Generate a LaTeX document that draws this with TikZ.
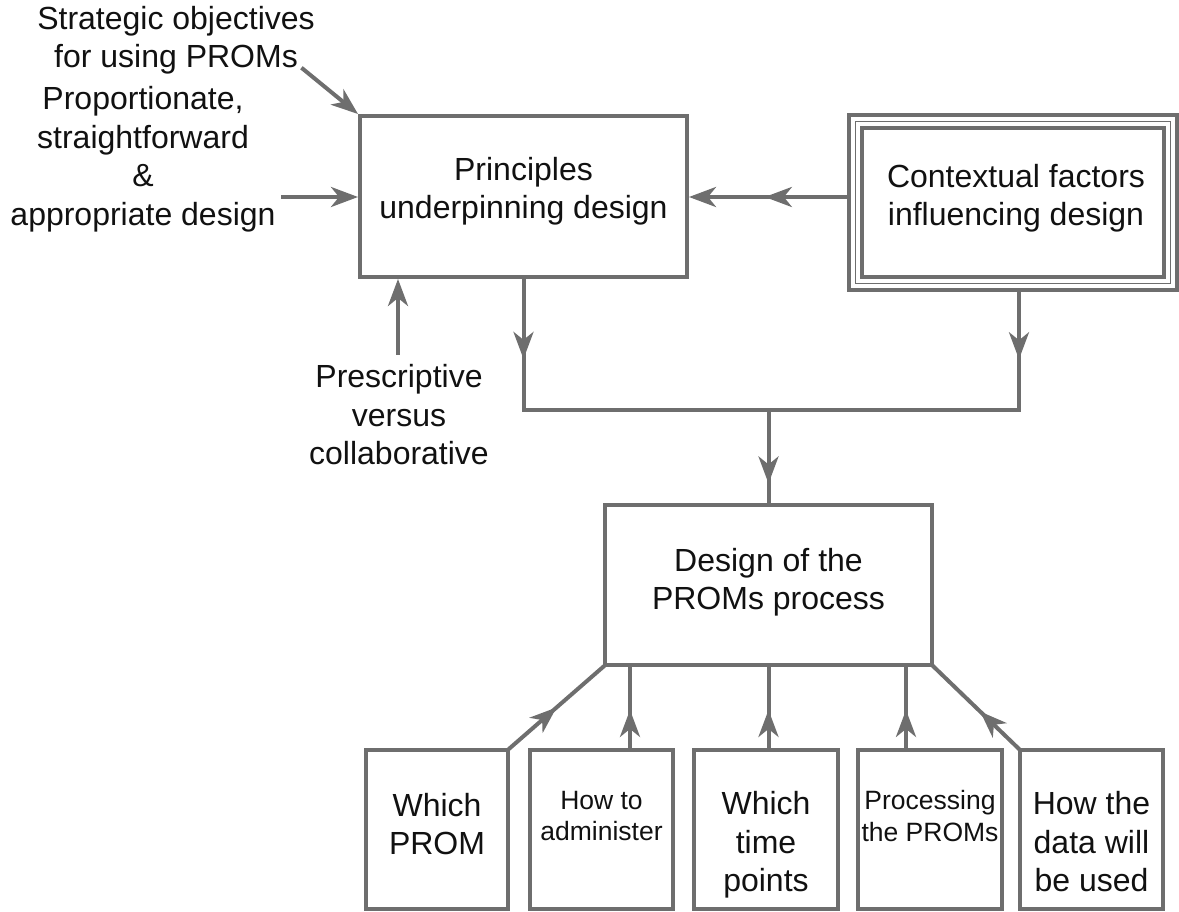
\documentclass[tikz,border=0pt]{standalone}
\usepackage{fontspec}
\setmainfont{Liberation Sans}
\usetikzlibrary{arrows.meta,decorations.markings,calc}
\definecolor{lgray}{HTML}{6E6E6E}
\definecolor{txt}{HTML}{111111}
\tikzset{
  lbl/.style={text=txt, font=\fontsize{32}{38.5}\selectfont, align=center, inner sep=0pt},
  smalllbl/.style={text=txt, font=\fontsize{26.5}{31.5}\selectfont, align=center, inner sep=0pt},
  box/.style={draw=lgray, line width=4pt, rectangle, inner sep=0pt},
  conn/.style={color=lgray, line width=4pt, line cap=rect},
  tip/.style={-{Stealth[length=27pt,width=20pt,inset=8pt]}},
  midarrow/.style={postaction={decorate}, decoration={markings, mark=at position #1 with {\arrow{Stealth[length=27pt,width=20pt,inset=8pt]}}}}
}
\begin{document}
\begin{tikzpicture}[x=1pt,y=-1pt]
\useasboundingbox (0,0) rectangle (1179,912);

% main boxes
\node[box, minimum width=327pt, minimum height=161pt] (prin) at (523.5,196.5) {};
\node[lbl] (prinT) at (523.5,191) {Principles\\underpinning design};

\node[box, minimum width=328pt, minimum height=175pt] (ctx) at (1013,202.5) {};
\draw[lgray, line width=1.6pt] ($(ctx.north west)+(8.5,8.5)$) rectangle ($(ctx.south east)+(-8.5,-8.5)$);
\draw[lgray, line width=4pt] ($(ctx.north west)+(15,15)$) rectangle ($(ctx.south east)+(-15,-15)$);
\node[lbl] (ctxT) at (1016,198) {Contextual factors\\influencing design};

\node[box, minimum width=327pt, minimum height=160pt] (design) at (768.5,585) {};
\node[lbl] (designT) at (768.5,582) {Design of the\\PROMs process};

% bottom boxes
\node[box, minimum width=142pt, minimum height=159pt] (prom) at (437,829.5) {};
\node[lbl] (promT) at (437,824) {Which\\PROM};
\node[box, minimum width=143pt, minimum height=159pt] (adm) at (601.5,829.5) {};
\node[smalllbl] (admT) at (601.5,816) {How to\\administer};
\node[box, minimum width=144pt, minimum height=159pt] (time) at (766,829.5) {};
\node[lbl] (timeT) at (766,845) {Which\\time\\points};
\node[box, minimum width=144pt, minimum height=159pt] (proc) at (930,829.5) {};
\node[smalllbl] (procT) at (930,816) {Processing\\the PROMs};
\node[box, minimum width=143pt, minimum height=159pt] (data) at (1091.5,829.5) {};
\node[lbl] (dataT) at (1091.5,842) {How the\\data will\\be used};

% side labels
\node[lbl] (strat) at (176,40) {Strategic objectives\\for using PROMs};
\node[lbl] (prop) at (143,159) {Proportionate,\\straightforward\\\&\\appropriate design};
\node[lbl] (presc) at (399,415) {Prescriptive\\versus\\collaborative};

\coordinate (s0) at (303,69);
\coordinate (p0) at (283,197);
\coordinate (q0) at (398,353);
\draw[conn, tip] (s0) -- (prin.north west);
\draw[conn, tip] (p0) -- (p0 -| prin.west);
\draw[conn, tip] (q0) -- (q0 |- prin.south);

% contextual -> principles
\draw[conn, tip, midarrow=0.52] (ctx.west |- 0,197) -- (prin.east |- 0,197);

% junction
\coordinate (jL) at (523.5,410);
\coordinate (jR) at (1019,410);
\coordinate (jC) at (768.5,410);
\draw[conn, midarrow=0.61] (prin.south) -- (jL);
\draw[conn, midarrow=0.57] (jR |- ctx.south) -- (jR);
\draw[conn] (jL) -- (jR);
\draw[conn, midarrow=0.79] (jC) -- (design.north);

% bottom connectors
\draw[conn, midarrow=0.5] (prom.north east) -- (design.south west);
\draw[conn, midarrow=0.47] ([xshift=28.5pt]adm.north) -- ([xshift=28.5pt]adm.north |- design.south);
\draw[conn, midarrow=0.47] ([xshift=2.5pt]time.north) -- ([xshift=2.5pt]time.north |- design.south);
\draw[conn, midarrow=0.47] ([xshift=-24pt]proc.north) -- ([xshift=-24pt]proc.north |- design.south);
\draw[conn, midarrow=0.45] (data.north west) -- (design.south east);
\end{tikzpicture}
\end{document}
